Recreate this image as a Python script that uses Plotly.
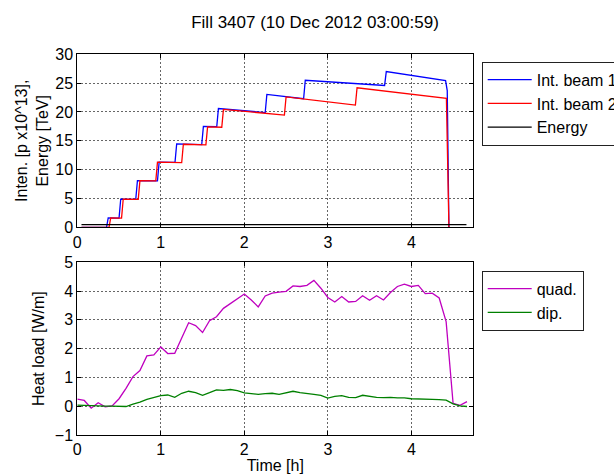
import plotly.graph_objects as go

# ---------------- data ----------------
# Intensity (x1e13 p) vs time [h], step vertices
t_beam1 = [0.05, 0.35, 0.37, 0.50, 0.52, 0.70, 0.72, 0.96, 0.98, 1.17, 1.19, 1.49, 1.51,
           1.67, 1.69, 2.25, 2.27, 2.71, 2.73, 3.68, 3.70, 4.41, 4.43, 4.45]
v_beam1 = [0.0, 0.0, 1.65, 1.6, 4.9, 4.85, 8.1, 8.05, 11.3, 11.25, 14.45, 14.35, 17.5,
           17.45, 20.6, 19.9, 23.05, 22.3, 25.5, 24.6, 27.0, 25.45, 23.7, 0.0]

t_beam2 = [0.05, 0.38, 0.40, 0.53, 0.55, 0.73, 0.75, 0.94, 0.96, 1.25, 1.27, 1.54, 1.56,
           1.73, 1.75, 2.48, 2.50, 3.33, 3.35, 4.42, 4.45]
v_beam2 = [0.0, 0.0, 1.65, 1.6, 4.9, 4.85, 8.1, 8.05, 11.3, 11.2, 14.4, 14.3, 17.4,
           17.35, 20.45, 19.45, 22.6, 21.2, 24.2, 22.35, 0.0]

t_energy = [0.05, 4.66]
v_energy = [0.45, 0.45]

# Heat load [W/m], sampled every 5 min
t_heat = [i / 12 for i in range(57)]
quad = [0.25, 0.20, -0.07, 0.12, -0.02, 0.01, 0.26, 0.62, 1.03, 1.24, 1.75, 1.78,
        2.06, 1.83, 1.84, 2.36, 2.90, 2.80, 2.56, 2.97, 3.11, 3.40, 3.57, 3.75,
        3.90, 3.69, 3.45, 3.83, 3.93, 3.96, 3.99, 4.18, 4.16, 4.20, 4.37, 4.10,
        3.78, 3.62, 3.81, 3.62, 3.64, 3.84, 3.68, 3.84, 3.69, 3.95, 4.16, 4.24,
        4.16, 4.20, 3.91, 3.93, 3.76, 2.94, 0.10, 0.03, 0.16]
dip = [0.04, 0.03, 0.00, 0.00, 0.00, 0.00, -0.01, -0.01, 0.07, 0.14, 0.24, 0.31,
       0.37, 0.39, 0.31, 0.45, 0.52, 0.47, 0.38, 0.47, 0.57, 0.55, 0.58, 0.54,
       0.46, 0.44, 0.41, 0.44, 0.45, 0.41, 0.47, 0.52, 0.47, 0.43, 0.41, 0.38,
       0.28, 0.34, 0.37, 0.31, 0.30, 0.38, 0.34, 0.31, 0.30, 0.31, 0.29, 0.29,
       0.26, 0.26, 0.26, 0.24, 0.23, 0.21, 0.08, 0.01, -0.01]

title_text = "Fill 3407 (10 Dec 2012 03:00:59)"

# ---------------- figure ----------------
W, H = 614, 474
FONT = "Liberation Sans, Arial, Helvetica, sans-serif"
LW = 1.3

def px_x(p):
    return p / W

def px_y(p):
    return 1 - p / H

fig = go.Figure()
fig.add_trace(go.Scatter(x=t_beam1, y=v_beam1, mode="lines", name="Int. beam 1",
                         line=dict(color="#0000ff", width=LW), xaxis="x", yaxis="y",
                         legend="legend"))
fig.add_trace(go.Scatter(x=t_beam2, y=v_beam2, mode="lines", name="Int. beam 2",
                         line=dict(color="#ff0000", width=LW), xaxis="x", yaxis="y",
                         legend="legend"))
fig.add_trace(go.Scatter(x=t_energy, y=v_energy, mode="lines", name="Energy",
                         line=dict(color="#000000", width=LW), xaxis="x", yaxis="y",
                         legend="legend"))
fig.add_trace(go.Scatter(x=t_heat, y=quad, mode="lines", name="quad.",
                         line=dict(color="#bf00bf", width=LW), xaxis="x2", yaxis="y2",
                         legend="legend2"))
fig.add_trace(go.Scatter(x=t_heat, y=dip, mode="lines", name="dip.",
                         line=dict(color="#008000", width=LW), xaxis="x2", yaxis="y2",
                         legend="legend2"))

xdom = [px_x(77.3), px_x(473.3)]
common_axis = dict(
    showline=True, linecolor="black", linewidth=1, mirror="ticks",
    ticks="inside", ticklen=4, tickcolor="black",
    showgrid=True, gridcolor="#666666", gridwidth=1, griddash="1.5px,2.5px",
    zeroline=False, tickfont=dict(family=FONT, size=16, color="black"),
    automargin=False,
)

fig.update_layout(
    width=W, height=H,
    margin=dict(l=0, r=0, t=0, b=0, autoexpand=False),
    paper_bgcolor="white", plot_bgcolor="white",
    font=dict(family=FONT, size=16, color="black"),
    showlegend=True,
    title=dict(text=title_text, x=px_x(315), xanchor="center",
               y=px_y(22), yanchor="middle",
               font=dict(family=FONT, size=17, color="black")),
    xaxis=dict(domain=xdom, range=[0, 4.742], tickvals=[0, 1, 2, 3, 4],
               anchor="y", **common_axis),
    yaxis=dict(domain=[px_y(227.3), px_y(54.3)], range=[0, 30], dtick=5, tick0=0,
               anchor="x",
               title=dict(text="Inten. [p x10^13],<br>Energy [TeV]", standoff=2,
                          font=dict(family=FONT, size=16)),
               **common_axis),
    xaxis2=dict(domain=xdom, range=[0, 4.742], tickvals=[0, 1, 2, 3, 4],
                anchor="y2",
                title=dict(text="Time [h]", standoff=2, font=dict(family=FONT, size=16)),
                **common_axis),
    yaxis2=dict(domain=[px_y(435), px_y(262.3)], range=[-1, 5], dtick=1, tick0=0,
                anchor="x2",
                title=dict(text="Heat load [W/m]", standoff=6,
                           font=dict(family=FONT, size=16)),
                **common_axis),
    legend=dict(x=px_x(481.7), y=px_y(61.7), xanchor="left", yanchor="top",
                bgcolor="white", bordercolor="#222222", borderwidth=1,
                font=dict(family=FONT, size=16, color="black"), itemwidth=44,
                tracegroupgap=0),
    legend2=dict(x=px_x(481.7), y=px_y(270.7), xanchor="left", yanchor="top",
                 bgcolor="white", bordercolor="#222222", borderwidth=1,
                 font=dict(family=FONT, size=16, color="black"), itemwidth=44,
                 tracegroupgap=0),
)

fig.write_html("out.html")
